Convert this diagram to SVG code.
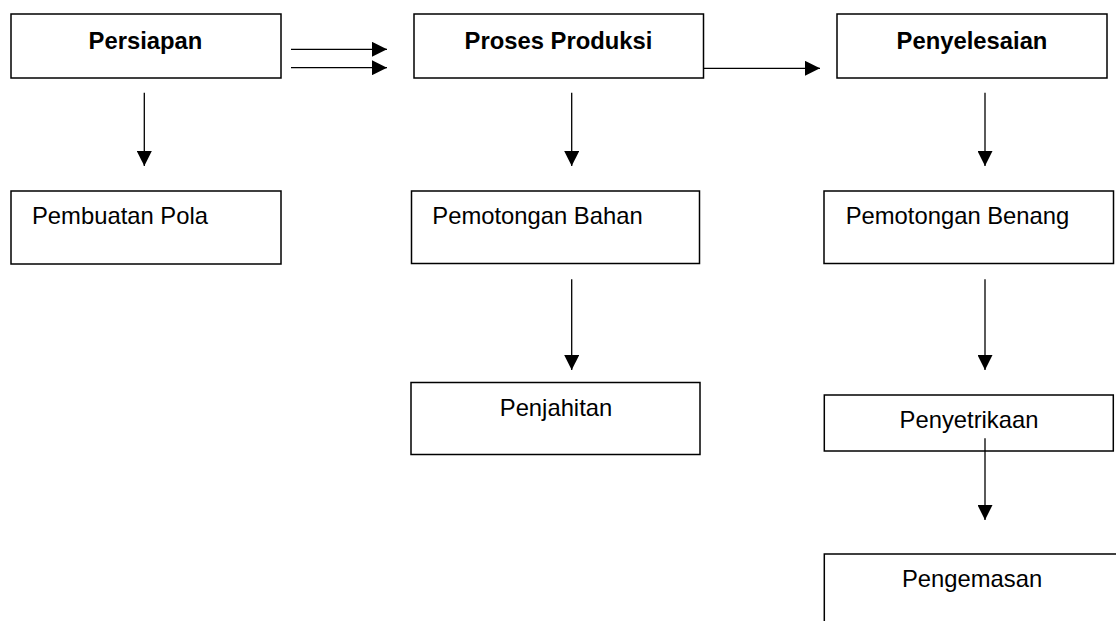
<svg xmlns="http://www.w3.org/2000/svg" width="1116" height="621" viewBox="0 0 1116 621">
<style>
.box{fill:#fff;stroke:#000;stroke-width:1.5}
.t{font-family:"Liberation Sans",Arial,sans-serif;font-size:23.8px;fill:#000}
.b{font-weight:bold}
.c{stroke:#000;stroke-width:1.3;fill:none;marker-end:url(#ah)}
</style>
<defs>
<marker id="ah" markerUnits="userSpaceOnUse" markerWidth="15" markerHeight="15" refX="15" refY="7.5" orient="auto" viewBox="0 0 15 15">
<path d="M0,0 L15,7.5 L0,15 z" fill="#000"/>
</marker>
</defs>
<rect width="1116" height="621" fill="#fff"/>
<g id="persiapan"><rect class="box" x="11" y="14" width="270" height="64"/><text class="t b" x="145.5" y="49" text-anchor="middle">Persiapan</text></g>
<g id="proses-produksi"><rect class="box" x="414" y="14" width="289.5" height="64"/><text class="t b" x="558.5" y="49" text-anchor="middle">Proses Produksi</text></g>
<g id="penyelesaian"><rect class="box" x="837" y="14" width="270" height="64"/><text class="t b" x="972" y="49" text-anchor="middle">Penyelesaian</text></g>
<g id="pembuatan-pola"><rect class="box" x="11" y="191" width="270" height="73"/><text class="t" x="32" y="224">Pembuatan Pola</text></g>
<g id="pemotongan-bahan"><rect class="box" x="411.5" y="191" width="288" height="72.5"/><text class="t" x="432.3" y="224">Pemotongan Bahan</text></g>
<g id="pemotongan-benang"><rect class="box" x="824" y="191" width="289.5" height="72.5"/><text class="t" x="845.7" y="224">Pemotongan Benang</text></g>
<g id="penjahitan"><rect class="box" x="411" y="382.5" width="289" height="72"/><text class="t" x="556" y="416" text-anchor="middle">Penjahitan</text></g>
<g id="penyetrikaan"><rect class="box" x="824.3" y="395" width="289" height="56"/><text class="t" x="969" y="428.3" text-anchor="middle">Penyetrikaan</text></g>
<g id="pengemasan"><rect class="box" x="824.3" y="554" width="320" height="120"/><text class="t" x="972" y="587" text-anchor="middle">Pengemasan</text></g>
<g id="connectors">
<line class="c" x1="291" y1="49.3" x2="387" y2="49.3"/>
<line class="c" x1="291" y1="67.7" x2="387" y2="67.7"/>
<line class="c" x1="703.5" y1="68.3" x2="820" y2="68.3"/>
<line class="c" x1="144.3" y1="92.7" x2="144.3" y2="166"/>
<line class="c" x1="571.7" y1="92.7" x2="571.7" y2="166"/>
<line class="c" x1="985" y1="92.7" x2="985" y2="166"/>
<line class="c" x1="571.7" y1="279.3" x2="571.7" y2="370"/>
<line class="c" x1="985" y1="279.3" x2="985" y2="370"/>
<line class="c" x1="985" y1="438.3" x2="985" y2="520"/>
</g>
</svg>
